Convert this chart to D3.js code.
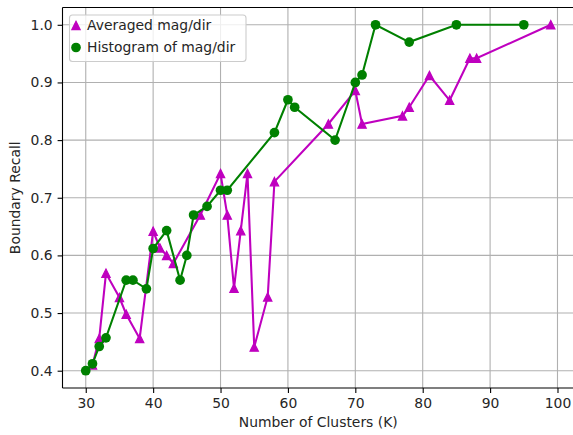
<!DOCTYPE html>
<html><head><meta charset="utf-8">
<script src="https://cdn.jsdelivr.net/npm/d3@7"></script>
<style>body{margin:0;background:#fff}svg{display:block}text{font-family:"DejaVu Sans",sans-serif}</style>
</head><body>
<svg id="c" width="573" height="435"></svg>
<script>
const avgK = [31, 32, 33, 35, 36, 38, 40, 41, 42, 43, 47, 50, 51, 52, 53, 54, 55, 57, 58, 66, 70, 71, 77, 78, 81, 84, 87, 88, 99];
const avgRecall = [0.41, 0.456, 0.569, 0.527, 0.498, 0.456, 0.642, 0.613, 0.600, 0.586, 0.670, 0.742, 0.670, 0.543, 0.643, 0.742, 0.441, 0.528, 0.728, 0.828, 0.886, 0.828, 0.842, 0.857, 0.912, 0.869, 0.942, 0.942, 1.0];
const histK = [30, 31, 32, 33, 36, 37, 39, 40, 42, 44, 45, 46, 48, 50, 51, 58, 60, 61, 67, 70, 71, 73, 78, 85, 95];
const histRecall = [0.40, 0.412, 0.442, 0.457, 0.557, 0.557, 0.542, 0.612, 0.643, 0.557, 0.600, 0.670, 0.685, 0.713, 0.713, 0.813, 0.870, 0.857, 0.800, 0.900, 0.913, 1.0, 0.970, 1.0, 1.0];
const xTicks = [30, 40, 50, 60, 70, 80, 90, 100];
const yTicks = [0.4, 0.5, 0.6, 0.7, 0.8, 0.9, 1.0];
const seriesNames = ["Averaged mag/dir", "Histogram of mag/dir"];

const svg = d3.select("#c");
const L = 62.5, R = 574, T = 7.5, B = 388;
const x = d3.scaleLinear().domain([26.55, 102.45]).range([L, R]);
const y = d3.scaleLinear().domain([0.37, 1.03]).range([B, T]);

// grid
const g = svg.append("g");
g.selectAll(".gx").data(xTicks).enter().append("line")
  .attr("x1", d => x(d)).attr("x2", d => x(d)).attr("y1", T).attr("y2", B)
  .attr("stroke", "#b0b0b0").attr("stroke-width", 1.1);
g.selectAll(".gy").data(yTicks).enter().append("line")
  .attr("x1", L).attr("x2", R).attr("y1", d => y(d)).attr("y2", d => y(d))
  .attr("stroke", "#b0b0b0").attr("stroke-width", 1.1);

// axes
const xAxis = d3.axisBottom(x).tickValues(xTicks).tickSize(4.9).tickPadding(4.9).tickFormat(d3.format("d"));
const yAxis = d3.axisLeft(y).tickValues(yTicks).tickSize(4.9).tickPadding(4.9).tickFormat(d3.format(".1f"));
const ax = svg.append("g").attr("transform", `translate(0,${B})`).call(xAxis);
const ay = svg.append("g").attr("transform", `translate(${L},0)`).call(yAxis);
[ax, ay].forEach(a => {
  a.select(".domain").remove();
  a.selectAll(".tick line").attr("stroke", "#000").attr("stroke-width", 1.1);
  a.selectAll(".tick text").attr("fill", "#262626").style("font-size", "13.9px").style("font-family", "DejaVu Sans");
});

// data
const line = d3.line().x(d => x(d[0])).y(d => y(d[1]));
const avgData = avgK.map((k, i) => [k, avgRecall[i]]);
const histData = histK.map((k, i) => [k, histRecall[i]]);
const triPath = (h) => `M0,${-h}L${h},${h}L${-h},${h}Z`;
const MAG = "#bf00bf", GRN = "#008000";

svg.append("path").datum(avgData).attr("d", line).attr("fill", "none")
  .attr("stroke", MAG).attr("stroke-width", 2.08);
svg.selectAll(".ta").data(avgData).enter().append("path")
  .attr("d", triPath(4.17)).attr("transform", d => `translate(${x(d[0])},${y(d[1])})`)
  .attr("fill", MAG).attr("stroke", MAG).attr("stroke-width", 1.2);

svg.append("path").datum(histData).attr("d", line).attr("fill", "none")
  .attr("stroke", GRN).attr("stroke-width", 2.08);
svg.selectAll(".ch").data(histData).enter().append("circle")
  .attr("cx", d => x(d[0])).attr("cy", d => y(d[1])).attr("r", 4.85)
  .attr("fill", GRN);

// spines
svg.append("line").attr("x1", L).attr("x2", L).attr("y1", T).attr("y2", B).attr("stroke", "#000").attr("stroke-width", 1.1);
svg.append("line").attr("x1", L).attr("x2", R).attr("y1", B).attr("y2", B).attr("stroke", "#000").attr("stroke-width", 1.1);
svg.append("line").attr("x1", L).attr("x2", R).attr("y1", T).attr("y2", T).attr("stroke", "#000").attr("stroke-width", 1.1);

// legend
const lg = svg.append("g");
lg.append("rect").attr("x", 69.5).attr("y", 15).attr("width", 176.5).attr("height", 46.5)
  .attr("rx", 3).attr("fill", "#fff").attr("fill-opacity", 0.8).attr("stroke", "#cccccc").attr("stroke-width", 1.1);
lg.append("path").attr("d", triPath(4.17)).attr("transform", "translate(76,25.5)")
  .attr("fill", MAG).attr("stroke", MAG).attr("stroke-width", 1.2);
lg.append("circle").attr("cx", 76).attr("cy", 47.5).attr("r", 4.85).attr("fill", GRN);
lg.selectAll(".lt").data(seriesNames).enter().append("text")
  .attr("x", 87).attr("y", (d, i) => 25.5 + i * 22).attr("dy", "0.35em")
  .attr("fill", "#262626").style("font-size", "13.9px").text(d => d);

// labels
svg.append("text").attr("x", (L + R) / 2).attr("y", 427).attr("text-anchor", "middle")
  .attr("fill", "#262626").style("font-size", "13.9px").text("Number of Clusters (K)");
svg.append("text").attr("transform", `translate(20,${(T + B) / 2}) rotate(-90)`).attr("text-anchor", "middle")
  .attr("fill", "#262626").style("font-size", "13.9px").text("Boundary Recall");
</script>
</body></html>
